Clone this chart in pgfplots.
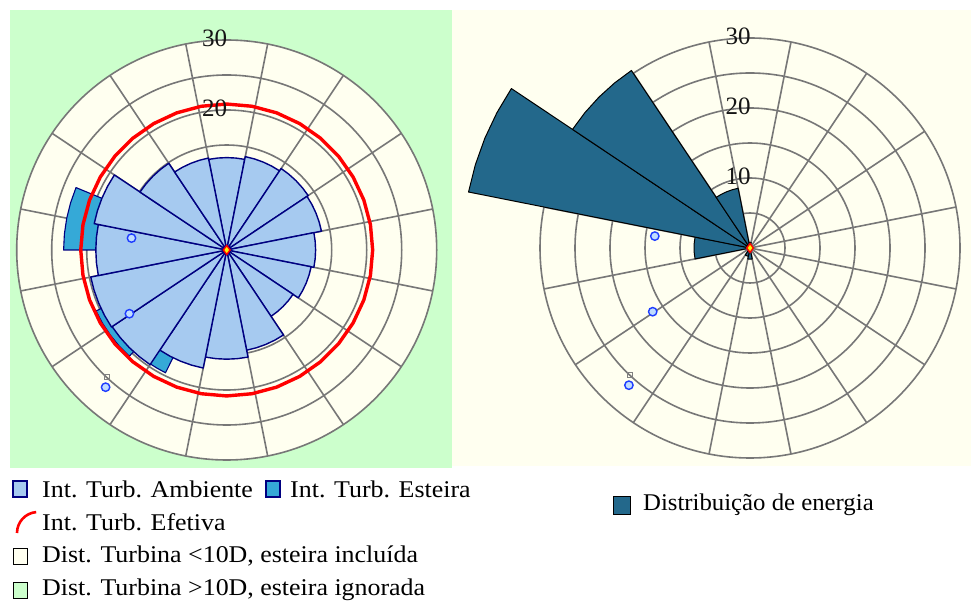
\documentclass[border=0pt]{standalone}
\usepackage{fontspec}
\setmainfont{Liberation Serif}
\usepackage{pgfplots}
\pgfplotsset{compat=1.18}

\definecolor{bggreen}{HTML}{CCFFCC}
\definecolor{cream}{HTML}{FFFFF0}
\definecolor{gridgray}{HTML}{777777}
\definecolor{ambfill}{HTML}{A6CAF0}
\definecolor{ambedge}{HTML}{000080}
\definecolor{wakefill}{HTML}{35A9D7}
\definecolor{energy}{HTML}{23688B}
\definecolor{turbblue}{HTML}{1E3CFF}
\definecolor{turbfill}{HTML}{BFDCFF}
\definecolor{labc}{HTML}{151515}

\pgfplotsset{
  amb/.style={fill=ambfill, draw=ambedge, line width=1.4pt, line join=round, data cs=polar},
  wake/.style={fill=wakefill, draw=ambedge, line width=1.1pt, line join=round, data cs=polar},
  ener/.style={fill=energy, draw=black, line width=1pt, line join=round, data cs=polar},
}

% sector from math angle #2 to #3 (degrees), radius #4
\newcommand\sectab[4]{%
  \pgfmathsetmacro\sA{(#2)}%
  \pgfmathsetmacro\sB{(#2)+((#3)-(#2))/4}%
  \pgfmathsetmacro\sC{(#2)+((#3)-(#2))/2}%
  \pgfmathsetmacro\sD{(#2)+3*((#3)-(#2))/4}%
  \pgfmathsetmacro\sE{(#3)}%
  \edef\tmp{\noexpand\addplot[#1] coordinates {(0,0) (\sA,#4) (\sB,#4) (\sC,#4) (\sD,#4) (\sE,#4)} -- cycle;}\tmp}
% 22.5-degree sector centred on math angle #2
\newcommand\sect[3]{\sectab{#1}{(#2)-11.25}{(#2)+11.25}{#3}}

\tikzset{gridline/.style={draw=gridgray, line width=1.6pt}}
\newcommand\spokes{11.25,33.75,56.25,78.75,101.25,123.75,146.25,168.75,191.25,213.75,236.25,258.75,281.25,303.75,326.25,348.75}
\newcommand\polargrid{%
  \foreach \a in \spokes {\draw[gridline] (0,0) -- (\a:30);}
  \foreach \r in {5,10,15,20,25,30} {\draw[gridline] (0,0) circle[radius=\r];}
}

\begin{document}
\begin{tikzpicture}
\useasboundingbox (0,0) rectangle (971pt,605pt);
\fill[white] (0,0) rectangle (971pt,605pt);
\fill[bggreen] (10pt,137pt) rectangle (452pt,595pt);
\fill[cream] (452pt,139pt) rectangle (971pt,595pt);

% left polar grid
\begin{scope}[shift={(226.7pt,355pt)}, x=7pt, y=7pt]
  \fill[cream] (0,0) circle[radius=30];
  \polargrid
\end{scope}
% right polar grid
\begin{scope}[shift={(750pt,357pt)}, x=7pt, y=7pt]
  \polargrid
\end{scope}

% ---------- left: turbulence intensity ----------
\begin{axis}[hide axis, x=7pt, y=7pt, xmin=-35, xmax=35, ymin=-35, ymax=35,
  clip=false, anchor=center, at={(226.7pt,355pt)}]
  % wake turbulence (Int. Turb. Esteira)
  \sectab{wake}{157.5}{180}{23.3}
  \sectab{wake}{-155}{-132.5}{20.6}
  \sectab{wake}{-132.5}{-116.5}{19.6}
  % ambient turbulence per sector (math angle of sector centre, %)
  \sect{amb}{90}{13.2}
  \sect{amb}{67.5}{13.6}
  \sect{amb}{45}{14.0}
  \sect{amb}{22.5}{13.8}
  \sect{amb}{0}{12.7}
  \sect{amb}{-22.5}{12.3}
  \sect{amb}{-45}{11.4}
  \sect{amb}{-67.5}{14.6}
  \sect{amb}{-90}{15.6}
  \sect{amb}{-112.5}{17.2}
  \sect{amb}{-135}{19.7}
  \sect{amb}{-157.5}{19.8}
  \sect{amb}{180}{18.7}
  \sect{amb}{157.5}{19.3}
  \sect{amb}{135}{14.9}
  \sect{amb}{112.5}{13.4}
  % effective turbulence
  \addplot[red, line width=3.4pt, data cs=polar] coordinates {
    (0,20.85) (10,20.85) (20,20.85) (30,20.85) (40,20.85) (50,20.85)
    (60,20.85) (70,20.85) (80,20.85) (90,20.85) (100,20.85) (110,20.85)
    (120,20.85) (130,20.85) (140,20.85) (150,20.85) (160,20.85) (170,20.85)
    (180,20.85) (190,20.85) (200,20.85) (210,20.85) (220,20.85) (230,20.85)
    (240,20.85) (250,20.85) (260,20.85) (270,20.85) (280,20.85) (290,20.85)
    (300,20.85) (310,20.85) (320,20.85) (330,20.85) (340,20.85) (350,20.85)} -- cycle;
  % neighbouring turbines
  \addplot[only marks, mark=square, mark size=2.4pt, draw=gray, line width=1pt] coordinates {(-17.1,-18.2)};
  \addplot[only marks, mark=*, mark size=4.2pt, draw=turbblue, fill=turbfill, line width=1.4pt]
    coordinates {(-13.6,1.7) (-13.9,-9.1) (-17.3,-19.6)};
  \addplot[only marks, mark=diamond*, mark size=4.5pt, draw=red, fill=yellow, line width=1.4pt] coordinates {(0,0)};
  \node[anchor=east, inner sep=0pt, text=labc, font=\fontsize{25}{25}\selectfont] at (axis cs:0.1,20.2) {20};
  \node[anchor=east, inner sep=0pt, text=labc, font=\fontsize{25}{25}\selectfont] at (axis cs:0.1,30.2) {30};
\end{axis}

% ---------- right: energy distribution ----------
\begin{axis}[hide axis, x=7pt, y=7pt, xmin=-35, xmax=35, ymin=-35, ymax=35,
  clip=false, anchor=center, at={(750pt,357pt)}]
  \sect{ener}{180}{8.0}
  \sect{ener}{157.5}{41.0}
  \sect{ener}{135}{30.5}
  \sect{ener}{112.5}{8.7}
  \sect{ener}{90}{0.8}
  \sect{ener}{-90}{1.6}
  \sect{ener}{-112.5}{1.2}
  \addplot[only marks, mark=square, mark size=2.4pt, draw=gray, line width=1pt] coordinates {(-17.1,-18.2)};
  \addplot[only marks, mark=*, mark size=4.2pt, draw=turbblue, fill=turbfill, line width=1.4pt]
    coordinates {(-13.6,1.7) (-13.9,-9.1) (-17.3,-19.6)};
  \addplot[only marks, mark=diamond*, mark size=4.5pt, draw=red, fill=yellow, line width=1.4pt] coordinates {(0,0)};
  \node[anchor=east, inner sep=0pt, text=labc, font=\fontsize{25}{25}\selectfont] at (axis cs:0.1,10.2) {10};
  \node[anchor=east, inner sep=0pt, text=labc, font=\fontsize{25}{25}\selectfont] at (axis cs:0.1,20.2) {20};
  \node[anchor=east, inner sep=0pt, text=labc, font=\fontsize{25}{25}\selectfont] at (axis cs:0.1,30.2) {30};
\end{axis}

% ---------- legends ----------
\tikzset{legtext/.style={anchor=west, inner sep=0pt, font=\fontsize{24}{26}\selectfont, xscale=1.08}}
\filldraw[fill=ambfill, draw=ambedge, line width=1.2pt] (13pt,108pt) rectangle (27pt,124pt);
\node[legtext] at (42pt,116pt) {Int. Turb. Ambiente};
\filldraw[fill=wakefill, draw=ambedge, line width=1.2pt] (266pt,108pt) rectangle (280pt,124pt);
\node[legtext] at (290pt,116pt) {Int. Turb. Esteira};
\draw[red, line width=2.6pt] (17pt,72pt) arc[start angle=180, end angle=95, radius=21pt];
\node[legtext] at (42pt,83pt) {Int. Turb. Efetiva};
\filldraw[fill=cream, draw=black, line width=1pt] (13pt,41pt) rectangle (27pt,57pt);
\node[legtext] at (42pt,49pt) {Dist. Turbina <10D, esteira incluída};
\filldraw[fill=bggreen, draw=black, line width=1pt] (13pt,7pt) rectangle (27pt,23pt);
\node[legtext] at (42pt,15pt) {Dist. Turbina >10D, esteira ignorada};
\filldraw[fill=energy, draw=black, line width=1pt] (613pt,91pt) rectangle (630pt,109pt);
\node[legtext, xscale=0.955] at (643pt,100pt) {Distribuição de energia};
\end{tikzpicture}
\end{document}
